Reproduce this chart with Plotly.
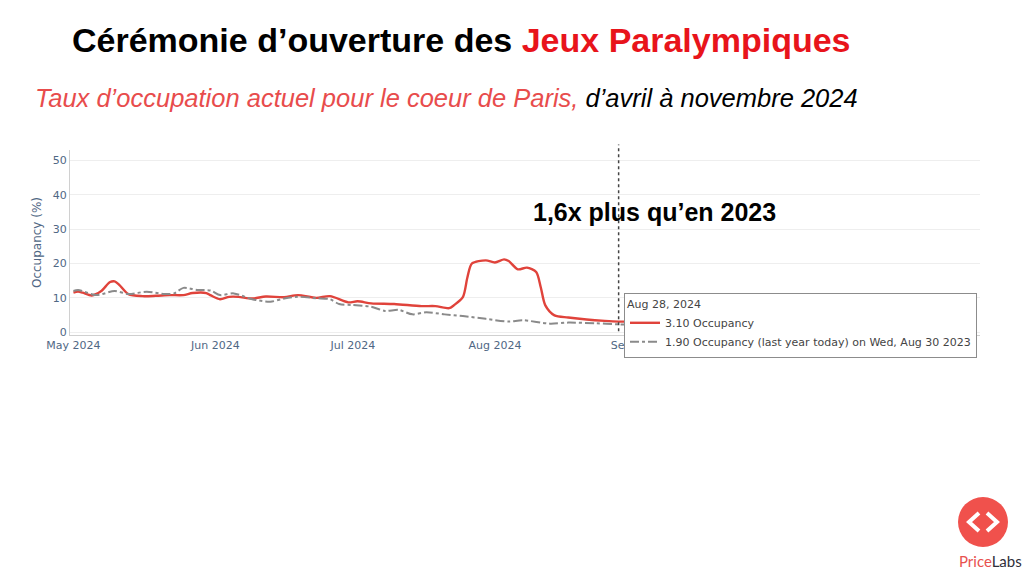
import plotly.graph_objects as go

# ---------------- data ----------------
occ_2024_dates = [
    "2024-05-01", "2024-05-02", "2024-05-03", "2024-05-05", "2024-05-07", "2024-05-09",
    "2024-05-10", "2024-05-11", "2024-05-13", "2024-05-16", "2024-05-19", "2024-05-22",
    "2024-05-25", "2024-05-27", "2024-05-30", "2024-05-31", "2024-06-02", "2024-06-04",
    "2024-06-06", "2024-06-09", "2024-06-12", "2024-06-16", "2024-06-19", "2024-06-23",
    "2024-06-26", "2024-06-30", "2024-07-02", "2024-07-05", "2024-07-10", "2024-07-16",
    "2024-07-19", "2024-07-22", "2024-07-23", "2024-07-25", "2024-07-26", "2024-07-27",
    "2024-07-30", "2024-08-01", "2024-08-03", "2024-08-04", "2024-08-06", "2024-08-08",
    "2024-08-10", "2024-08-11", "2024-08-12", "2024-08-14", "2024-08-17", "2024-08-21",
    "2024-08-25", "2024-08-28", "2024-08-31",
]
occ_2024_values = [
    11.5, 11.8, 11.5, 10.7, 11.9, 14.6,
    14.8, 13.8, 11.1, 10.5, 10.6, 10.8,
    10.8, 11.4, 11.4, 10.7, 9.6, 10.3,
    10.3, 9.8, 10.4, 10.2, 10.8, 10.0,
    10.5, 8.7, 9.0, 8.4, 8.2, 7.6,
    7.6, 7.0, 7.8, 10.2, 16.0, 20.0,
    20.9, 20.3, 21.2, 20.7, 18.3, 18.8,
    17.5, 13.1, 7.8, 4.9, 4.3, 3.7,
    3.3, 3.1, 3.1,
]

occ_2023_dates = [
    "2024-05-01", "2024-05-02", "2024-05-06", "2024-05-10", "2024-05-13", "2024-05-17",
    "2024-05-21", "2024-05-23", "2024-05-25", "2024-05-28", "2024-05-31", "2024-06-02",
    "2024-06-05", "2024-06-09", "2024-06-13", "2024-06-16", "2024-06-19", "2024-06-23",
    "2024-06-26", "2024-06-28", "2024-07-01", "2024-07-05", "2024-07-08", "2024-07-11",
    "2024-07-14", "2024-07-17", "2024-07-21", "2024-07-25", "2024-07-30", "2024-08-04",
    "2024-08-07", "2024-08-13", "2024-08-17", "2024-08-23", "2024-08-28", "2024-08-31",
]
occ_2023_values = [
    12.0, 12.3, 10.8, 12.0, 11.1, 11.8,
    11.1, 11.3, 12.9, 12.3, 12.1, 10.8,
    11.3, 9.6, 8.9, 9.8, 10.3, 9.9,
    9.6, 8.2, 7.9, 7.4, 6.2, 6.5,
    5.2, 5.8, 5.2, 4.7, 3.9, 3.1,
    3.5, 2.5, 2.8, 2.6, 2.3, 2.2,
]

y_ticks = [0, 10, 20, 30, 40, 50]
x_ticks = ["2024-05-01", "2024-06-01", "2024-07-01", "2024-08-01", "2024-09-01"]
x_tick_labels = ["May 2024", "Jun 2024", "Jul 2024", "Aug 2024", "Sep 2024"]
hover_date = "2024-08-28"
hover_title = "Aug 28, 2024"
name_2024 = "3.10 Occupancy"
name_2023 = "1.90 Occupancy (last year today) on Wed, Aug 30 2023"

# ---------------- layout helpers (pixel -> paper) ----------------
W, H = 1024, 576
ML, MR, MT, MB = 70, 44, 150, 241
PW, PH = W - ML - MR, H - MT - MB


def px(x):
    return (x - ML) / PW


def py(y):
    return (H - MB - y) / PH


TICK_FONT = dict(family="DejaVu Sans, Verdana, sans-serif", size=11, color="#506784")

fig = go.Figure()
fig.add_trace(go.Scatter(
    x=occ_2024_dates, y=occ_2024_values, name=name_2024, mode="lines",
    line=dict(color="#e0433b", width=2.4, shape="spline", smoothing=0.8),
))
fig.add_trace(go.Scatter(
    x=occ_2023_dates, y=occ_2023_values, name=name_2023, mode="lines",
    line=dict(color="#8a8a8a", width=2, dash="dashdot", shape="spline", smoothing=0.8),
))

fig.add_shape(type="line", xref="x", yref="paper", x0=hover_date, x1=hover_date,
              y0=0.02, y1=1.03, line=dict(color="#444444", width=1.5, dash="dot"))

# logo
fig.add_shape(type="circle", xref="paper", yref="paper",
              x0=px(958), x1=px(1008), y0=py(547), y1=py(497),
              fillcolor="#f0514c", line=dict(width=0))
fig.add_shape(type="path", xref="paper", yref="paper",
              path=f"M {px(979)},{py(513)} L {px(969)},{py(522)} L {px(979)},{py(531)}",
              line=dict(color="white", width=4))
fig.add_shape(type="path", xref="paper", yref="paper",
              path=f"M {px(987)},{py(513)} L {px(997)},{py(522)} L {px(987)},{py(531)}",
              line=dict(color="white", width=4))

annotations = [
    dict(text="<b>Cérémonie d’ouverture des <span style='color:#e8141b'>Jeux Paralympiques</span></b>",
         x=px(461), y=py(40), xref="paper", yref="paper", showarrow=False,
         xanchor="center", yanchor="middle",
         font=dict(family="Liberation Sans, Arial, sans-serif", size=34, color="#000000"),
         ),
    dict(text="<i><span style='color:#e84c4c'>Taux d’occupation actuel pour le coeur de Paris,</span> d’avril à novembre 2024</i>",
         x=px(446), y=py(98), xref="paper", yref="paper", showarrow=False,
         xanchor="center", yanchor="middle",
         font=dict(family="Liberation Sans, Arial, sans-serif", size=25.5, color="#000000")),
    dict(text="<b>1,6x plus qu’en 2023</b>",
         x=px(654), y=py(212), xref="paper", yref="paper", showarrow=False,
         xanchor="center", yanchor="middle",
         font=dict(family="Liberation Sans, Arial, sans-serif", size=25, color="#000000")),
    dict(text="<span style='color:#e8514f'>Price</span><span style='color:#2f2f3a'>Labs</span>",
         x=px(990), y=py(561), xref="paper", yref="paper", showarrow=False,
         xanchor="center", yanchor="middle",
         font=dict(family="Lato, Open Sans, sans-serif", size=15)),
]

fig.update_layout(
    width=W, height=H,
    margin=dict(l=ML, r=MR, t=MT, b=MB),
    paper_bgcolor="white", plot_bgcolor="white",
    showlegend=True,
    legend=dict(
        x=px(624), y=py(293), xanchor="left", yanchor="top",
        bgcolor="white", bordercolor="#8c8c8c", borderwidth=1,
        font=dict(family="DejaVu Sans, Verdana, sans-serif", size=11, color="#444444"),
        title=dict(text=hover_title,
                   font=dict(family="DejaVu Sans, Verdana, sans-serif", size=11, color="#444444")),
        tracegroupgap=0, itemwidth=30,
    ),
    annotations=annotations,
    xaxis=dict(
        type="date", range=["2024-04-30 06:00", "2024-11-14 21:00"],
        tickvals=x_ticks, ticktext=x_tick_labels,
        showgrid=False, zeroline=False, showline=True, linecolor="#d0d0d0", linewidth=1,
        tickfont=TICK_FONT, ticks="",
    ),
    yaxis=dict(
        range=[-0.8, 53], tickvals=y_ticks, showgrid=True, gridcolor="#eeeeee",
        zeroline=False, showline=True, linecolor="#d0d0d0", linewidth=1,
        tickfont=TICK_FONT, ticks="",
        title=dict(text="Occupancy (%)", font=dict(family="DejaVu Sans, Verdana, sans-serif",
                                                   size=12, color="#506784"), standoff=8),
    ),
)

fig.write_html("out.html", post_script="document.body.style.margin='0';",
               config={"displayModeBar": False})
